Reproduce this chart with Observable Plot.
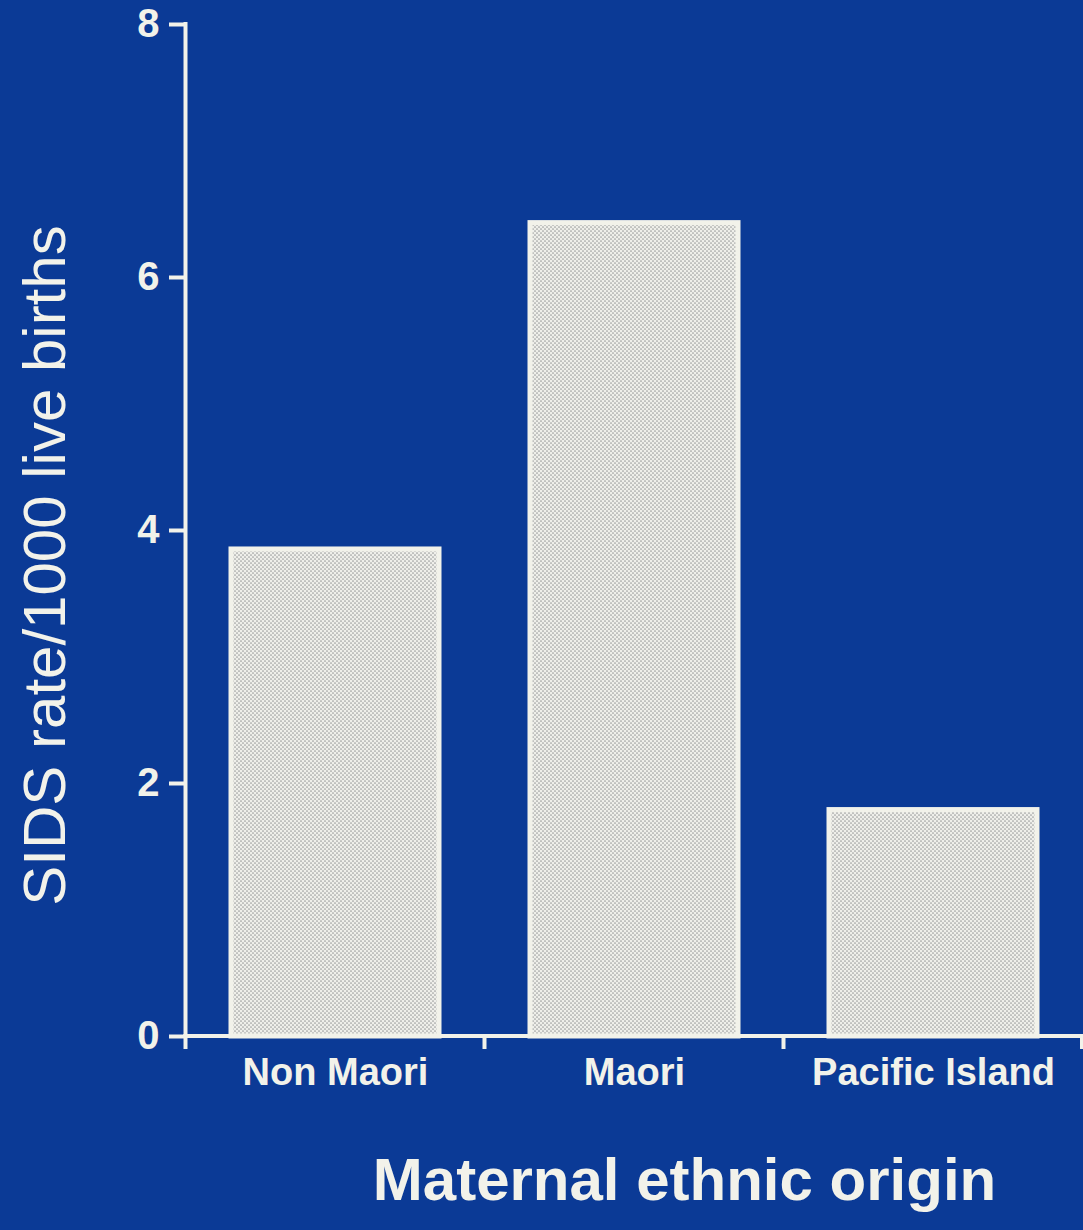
<!DOCTYPE html>
<html>
<head>
<meta charset="utf-8">
<script src="https://cdn.jsdelivr.net/npm/d3@7"></script>
<script src="https://cdn.jsdelivr.net/npm/@observablehq/plot@0.6"></script>
<style>
  html, body { margin: 0; padding: 0; background: #0b3a96; }
  #chart svg { display: block; }
</style>
</head>
<body>
<div id="chart"></div>
<script>
// SIDS rate per 1000 live births by maternal ethnic origin
const categories = ["Non Maori", "Maori", "Pacific Island"];
const rates = [3.85, 6.43, 1.79];
const yTicks = [0, 2, 4, 6, 8];
const yLabel = "SIDS rate/1000 live births";
const xLabel = "Maternal ethnic origin";

const data = categories.map((c, i) => ({category: c, rate: rates[i]}));

const ink = "#f2f2ea";
const font = "'Liberation Sans', Arial, sans-serif";

// Axis lines plus outward ticks at the band boundaries of the x axis
function axisFrame(index, scales, values, dimensions) {
  const {x, y} = scales;
  const {width, marginRight} = dimensions;
  const first = x(categories[0]);
  const step = typeof x.step === "function" ? x.step() : x(categories[1]) - x(categories[0]);
  const bw = typeof x.bandwidth === "function" ? x.bandwidth() : step;
  const left = first - (step - bw) / 2;
  const right = width - marginRight;
  const y0 = y(0);
  const yTop = y(yTicks[yTicks.length - 1]);
  const g = d3.create("svg:g")
    .attr("stroke", ink)
    .attr("stroke-width", 4)
    .attr("stroke-linecap", "square");
  // vertical axis line
  g.append("line").attr("x1", left).attr("x2", left).attr("y1", yTop).attr("y2", y0);
  // horizontal axis line
  g.append("line").attr("x1", left).attr("x2", right).attr("y1", y0).attr("y2", y0);
  // boundary ticks below the baseline
  d3.range(categories.length + 1).forEach(i => {
    const bx = Math.min(left + i * step, right - 1);
    g.append("line").attr("x1", bx).attr("x2", bx).attr("y1", y0).attr("y2", y0 + 11);
  });
  return g.node();
}

const chart = Plot.plot({
  width: 1083,
  height: 1230,
  marginLeft: 185,
  marginRight: 0,
  marginTop: 24,
  marginBottom: 194,
  style: {background: "#0b3a96", color: ink, fontFamily: font, overflow: "visible"},
  x: {domain: categories, paddingInner: 0.305, paddingOuter: 0.1525, label: null},
  y: {domain: [0, 8], label: null},
  marks: [
    Plot.barY(data, {
      x: "category",
      y: "rate",
      fill: "url(#stipple)",
      stroke: ink,
      strokeWidth: 5,
      insetLeft: 0,
      insetRight: 0
    }),
    Plot.axisY({
      ticks: yTicks,
      tickSize: 16,
      tickPadding: 10,
      strokeWidth: 4,
      stroke: ink,
      fill: ink,
      fontSize: 40,
      fontWeight: "bold",
      label: null
    }),
    Plot.axisX({
      tickSize: 0,
      tickPadding: 22,
      fill: ink,
      fontSize: 38,
      fontWeight: "bold",
      label: null
    }),
    axisFrame,
    Plot.text([yLabel], {
      frameAnchor: "left",
      textAnchor: "middle",
      lineAnchor: "middle",
      rotate: -90,
      dx: -140,
      dy: 35,
      fill: ink,
      fontSize: 60,
      fontFamily: font
    }),
    Plot.text([xLabel], {
      frameAnchor: "bottom",
      textAnchor: "middle",
      lineAnchor: "middle",
      dx: 50,
      dy: 144,
      fill: ink,
      fontSize: 60,
      fontWeight: "bold",
      fontFamily: font
    })
  ]
});

// Halftone stipple used to fill the bars
const ns = "http://www.w3.org/2000/svg";
const defs = document.createElementNS(ns, "defs");
const pattern = document.createElementNS(ns, "pattern");
pattern.setAttribute("id", "stipple");
pattern.setAttribute("patternUnits", "userSpaceOnUse");
pattern.setAttribute("width", 4);
pattern.setAttribute("height", 4);
const bg = document.createElementNS(ns, "rect");
bg.setAttribute("width", 4);
bg.setAttribute("height", 4);
bg.setAttribute("fill", "#efefea");
pattern.appendChild(bg);
[[1, 1], [3, 3]].forEach(([cx, cy]) => {
  const dot = document.createElementNS(ns, "circle");
  dot.setAttribute("cx", cx);
  dot.setAttribute("cy", cy);
  dot.setAttribute("r", 0.85);
  dot.setAttribute("fill", "#9c9e9e");
  pattern.appendChild(dot);
});
defs.appendChild(pattern);
chart.insertBefore(defs, chart.firstChild);

document.getElementById("chart").appendChild(chart);
</script>
</body>
</html>
